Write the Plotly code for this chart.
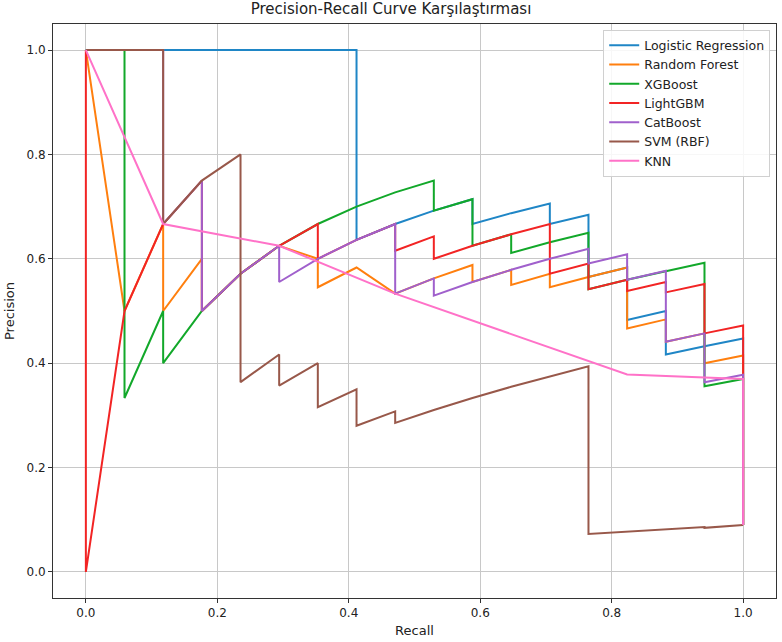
import plotly.graph_objects as go

# ---- data ----
lr_recall = [0.0, 0.0588, 0.1176, 0.1765, 0.2353, 0.2941, 0.3529, 0.4118, 0.4118, 0.4706, 0.5294, 0.5882, 0.5882,
             0.6471, 0.7059, 0.7059, 0.7647, 0.7647, 0.8235, 0.8235, 0.8824, 0.8824, 0.9412, 1.0, 1.0]
lr_precision = [1.0, 1.0, 1.0, 1.0, 1.0, 1.0, 1.0, 1.0, 0.6364, 0.6667, 0.6923, 0.7143, 0.6667,
                0.6875, 0.7059, 0.6667, 0.6842, 0.5652, 0.5833, 0.4828, 0.5, 0.4167, 0.4324, 0.4474, 0.0899]

rf_recall = [0.0, 0.0588, 0.1176, 0.1176, 0.1765, 0.1765, 0.2353, 0.2941, 0.3529, 0.3529, 0.4118, 0.4706, 0.5294,
             0.5882, 0.5882, 0.6471, 0.6471, 0.7059, 0.7059, 0.7647, 0.8235, 0.8235, 0.8824, 0.8824, 0.9412,
             0.9412, 1.0, 1.0]
rf_precision = [1.0, 0.5, 0.6667, 0.5, 0.6, 0.5, 0.5714, 0.625, 0.6, 0.5455, 0.5833, 0.5333, 0.5625,
                0.5882, 0.5556, 0.5789, 0.55, 0.5714, 0.5455, 0.5652, 0.5833, 0.4667, 0.4839, 0.4412, 0.4571,
                0.4, 0.4146, 0.0899]

xgb_recall = [0.0, 0.0588, 0.0588, 0.1176, 0.1176, 0.1765, 0.2353, 0.2941, 0.3529, 0.4118, 0.4706, 0.5294, 0.5294,
              0.5882, 0.5882, 0.6471, 0.6471, 0.7059, 0.7647, 0.7647, 0.8235, 0.8824, 0.9412, 0.9412, 1.0, 1.0]
xgb_precision = [1.0, 1.0, 0.3333, 0.5, 0.4, 0.5, 0.5714, 0.625, 0.6667, 0.7, 0.7273, 0.75, 0.6923,
                 0.7143, 0.625, 0.6471, 0.6111, 0.6316, 0.65, 0.5417, 0.56, 0.5769, 0.5926, 0.3556, 0.3696, 0.0899]

lgbm_recall = [0.0, 0.0, 0.0588, 0.1176, 0.1765, 0.1765, 0.2353, 0.2941, 0.3529, 0.3529, 0.4118, 0.4706, 0.4706,
               0.5294, 0.5294, 0.5882, 0.6471, 0.7059, 0.7059, 0.7647, 0.7647, 0.8235, 0.8235, 0.8824, 0.8824,
               0.9412, 0.9412, 1.0, 1.0]
lgbm_precision = [1.0, 0.0, 0.5, 0.6667, 0.75, 0.5, 0.5714, 0.625, 0.6667, 0.6, 0.6364, 0.6667, 0.6154,
                  0.6429, 0.6, 0.625, 0.6471, 0.6667, 0.5714, 0.5909, 0.5417, 0.56, 0.5385, 0.5556, 0.5357,
                  0.5517, 0.4571, 0.4722, 0.0899]

cat_recall = [0.0, 0.1176, 0.1176, 0.1765, 0.1765, 0.2353, 0.2941, 0.2941, 0.3529, 0.4118, 0.4706, 0.4706, 0.5294,
              0.5294, 0.5882, 0.6471, 0.7059, 0.7647, 0.7647, 0.8235, 0.8235, 0.8824, 0.8824, 0.9412, 0.9412,
              1.0, 1.0]
cat_precision = [1.0, 1.0, 0.6667, 0.75, 0.5, 0.5714, 0.625, 0.5556, 0.6, 0.6364, 0.6667, 0.5333, 0.5625,
                 0.5294, 0.5556, 0.5789, 0.6, 0.619, 0.5909, 0.6087, 0.56, 0.5769, 0.4412, 0.4571, 0.3636,
                 0.3778, 0.0899]

svm_recall = [0.0, 0.0588, 0.1176, 0.1176, 0.1765, 0.2353, 0.2353, 0.2941, 0.2941, 0.3529, 0.3529, 0.4118, 0.4118,
              0.4706, 0.4706, 0.5294, 0.5882, 0.6471, 0.7059, 0.7647, 0.7647, 0.9412, 0.9412, 1.0]
svm_precision = [1.0, 1.0, 1.0, 0.6667, 0.75, 0.8, 0.3636, 0.4167, 0.3571, 0.4, 0.3158, 0.35, 0.28,
                 0.3077, 0.2857, 0.3103, 0.3333, 0.3548, 0.375, 0.3939, 0.0726, 0.086, 0.0845, 0.0899]

knn_recall = [0.0, 0.1176, 0.2941, 0.4706, 0.8235, 1.0, 1.0]
knn_precision = [1.0, 0.6667, 0.625, 0.5333, 0.3784, 0.3696, 0.0899]

series = [
    ("Logistic Regression", lr_recall, lr_precision, "#1f86c6"),
    ("Random Forest", rf_recall, rf_precision, "#ff7f0e"),
    ("XGBoost", xgb_recall, xgb_precision, "#12a82a"),
    ("LightGBM", lgbm_recall, lgbm_precision, "#f22424"),
    ("CatBoost", cat_recall, cat_precision, "#a060cc"),
    ("SVM (RBF)", svm_recall, svm_precision, "#98584a"),
    ("KNN", knn_recall, knn_precision, "#ff72c8"),
]

x_ticks = [0.0, 0.2, 0.4, 0.6, 0.8, 1.0]
y_ticks = [0.0, 0.2, 0.4, 0.6, 0.8, 1.0]

fig = go.Figure()
for name, r, p, c in series:
    fig.add_trace(go.Scatter(x=r, y=p, mode="lines", name=name,
                             line=dict(color=c, width=2)))

font_family = "DejaVu Sans, sans-serif"
axis_common = dict(
    showgrid=True, gridcolor="#c8c8c8", gridwidth=1,
    showline=True, linecolor="#333", linewidth=1, mirror=True,
    ticks="outside", ticklen=4, tickcolor="#333",
    tickfont=dict(size=12, color="#222"), zeroline=False, tickformat=".1f",
)
fig.update_xaxes(range=[-0.05, 1.05], tickvals=x_ticks,
                 title=dict(text="Recall", font=dict(size=13, color="#222"), standoff=6),
                 **axis_common)
fig.update_yaxes(range=[-0.05, 1.05], tickvals=y_ticks,
                 title=dict(text="Precision", font=dict(size=13, color="#222"), standoff=8),
                 **axis_common)

fig.update_layout(
    width=782, height=642,
    margin=dict(l=53, r=6, t=24, b=44),
    paper_bgcolor="white", plot_bgcolor="white",
    font=dict(family=font_family, color="#222"),
    title=dict(text="Precision-Recall Curve Karşılaştırması", x=0.5, xanchor="center",
               y=0.995, yanchor="top", font=dict(size=15, color="#222")),
    legend=dict(x=0.992, y=0.99, xanchor="right", yanchor="top",
                bgcolor="rgba(255,255,255,0.85)", bordercolor="#d0d0d0", borderwidth=1,
                font=dict(size=12.5, color="#222"), tracegroupgap=0, itemwidth=30),
    showlegend=True,
)

fig.write_html("out.html")
